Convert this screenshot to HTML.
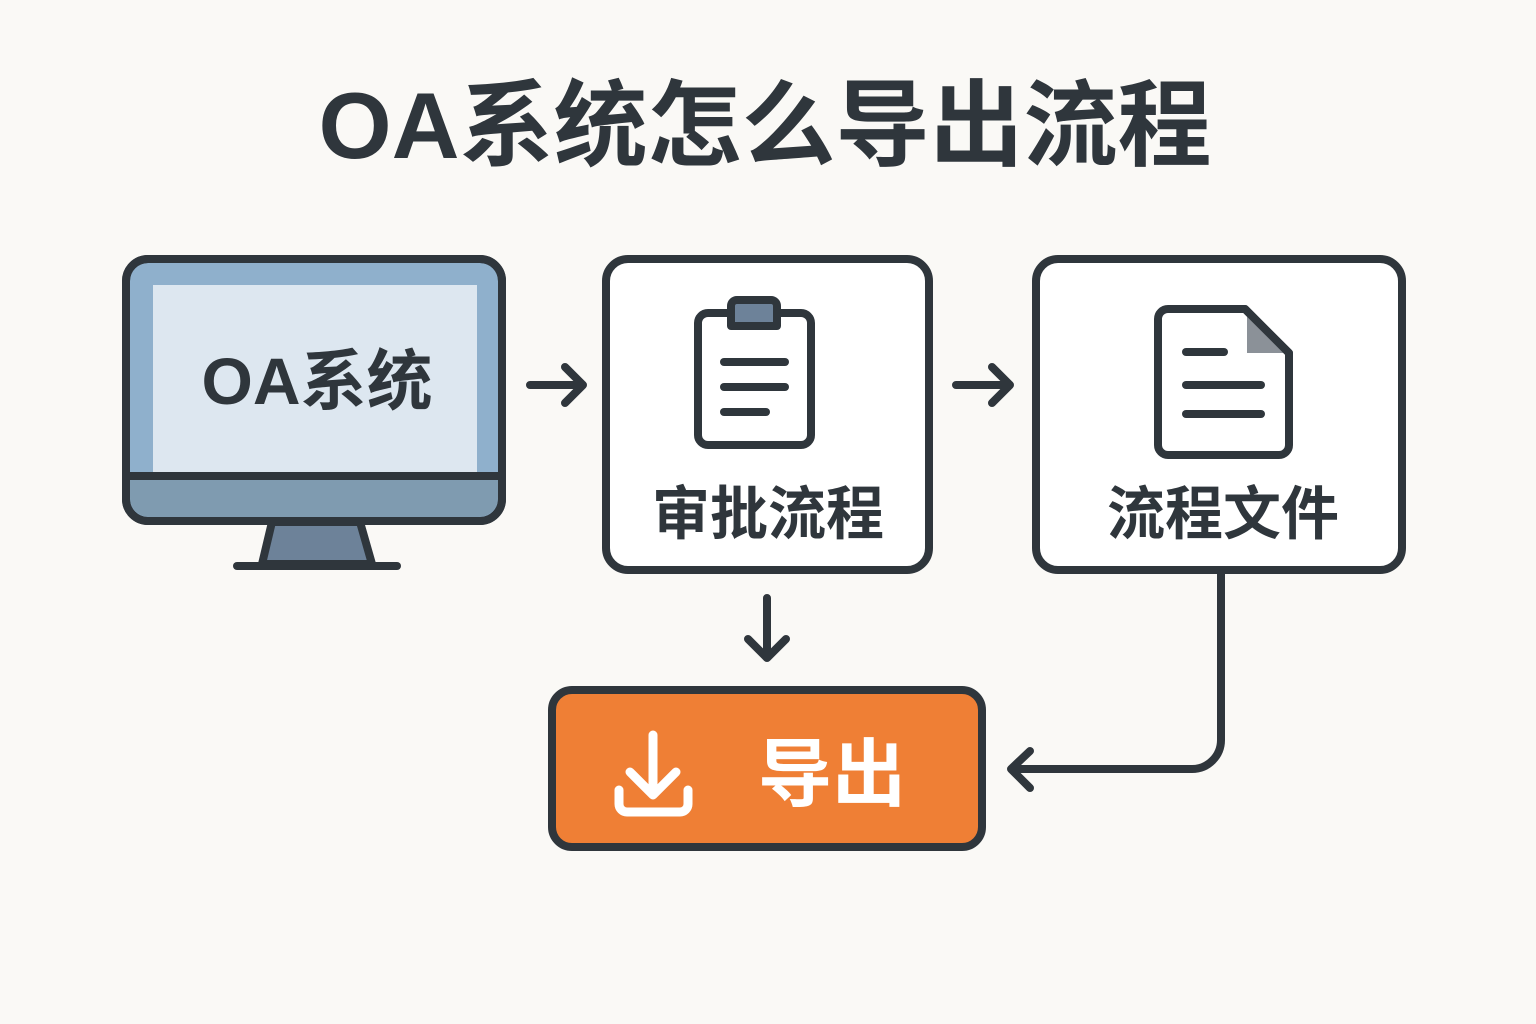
<!DOCTYPE html>
<html><head><meta charset="utf-8"><style>
html,body{margin:0;padding:0;background:#faf9f6}
svg{display:block}
text{font-family:"Liberation Sans","Noto Sans CJK SC",sans-serif;font-weight:bold;fill:#2f363c}
</style></head><body>
<svg width="1536" height="1024" viewBox="0 0 1536 1024" xmlns="http://www.w3.org/2000/svg">
<rect width="1536" height="1024" fill="#faf9f6"/>
<text x="765" y="158" font-size="94" text-anchor="middle">OA系统怎么导出流程</text>
<g stroke="#2f363c" stroke-width="8" stroke-linecap="round" stroke-linejoin="round">
<path d="M272 522 L262 564 L372 564 L360 522 Z" fill="#6d8299"/>
<rect x="126" y="259" width="376" height="262" rx="22" fill="#8fb0cc"/>
<rect x="153" y="285" width="324" height="187" fill="#dde7f0" stroke="none"/>
<path d="M130 476 H498 V498 a19 19 0 0 1 -19 19 H149 a19 19 0 0 1 -19 -19 Z" fill="#7f9bb0" stroke="none"/>
<rect x="126" y="259" width="376" height="262" rx="22" fill="none"/>
<line x1="130" y1="476" x2="498" y2="476"/>
<line x1="237" y1="566" x2="397" y2="566"/>
<path d="M530 385 H582 M565 367 L583 385 L565 403" fill="none"/>
<path d="M956 385 H1009 M992 367 L1010 385 L992 403" fill="none"/>
<path d="M767 598 V657 M748 639 L767 658 L786 639" fill="none"/>
<rect x="606" y="259" width="323" height="311" rx="22" fill="#fff"/>
<rect x="1036" y="259" width="366" height="311" rx="22" fill="#fff"/>
<rect x="698" y="313" width="113" height="132" rx="10" fill="#fff"/>
<path d="M731 326 V306 a6 6 0 0 1 6 -6 H771 a6 6 0 0 1 6 6 V326 Z" fill="#6d8299"/>
<line x1="724" y1="362" x2="785" y2="362"/>
<line x1="724" y1="387" x2="785" y2="387"/>
<line x1="724" y1="412" x2="766" y2="412"/>
<path d="M1245 309 L1289 353 V445 a10 10 0 0 1 -10 10 H1168 a10 10 0 0 1 -10 -10 V319 a10 10 0 0 1 10 -10 Z" fill="#fff"/>
<path d="M1247 313 V353 H1285 Z" fill="#8b9198" stroke="none"/>
<path d="M1245 309 L1289 353" fill="none"/>
<line x1="1186" y1="352" x2="1224" y2="352"/>
<line x1="1186" y1="385" x2="1261" y2="385"/>
<line x1="1186" y1="414" x2="1261" y2="414"/>
<path d="M1221 574 V740 a29 29 0 0 1 -29 29 H1012 M1030 751 L1011 769 L1030 788" fill="none"/>
<rect x="552" y="690" width="430" height="157" rx="20" fill="#ef7f35"/>
</g>
<g stroke="#fff" stroke-width="9" stroke-linecap="round" stroke-linejoin="round" fill="none">
<path d="M653 735 V793 M630 772 L653 795 L676 772"/>
<path d="M619 790 V804 a8 8 0 0 0 8 8 H680 a8 8 0 0 0 8 -8 V790"/>
</g>
<text x="317" y="404" font-size="66" text-anchor="middle">OA系统</text>
<text x="768" y="534" font-size="58" text-anchor="middle">审批流程</text>
<text x="1223" y="534" font-size="58" text-anchor="middle">流程文件</text>
<text x="832" y="800" font-size="74" text-anchor="middle" style="fill:#fff">导出</text>
</svg>
</body></html>
